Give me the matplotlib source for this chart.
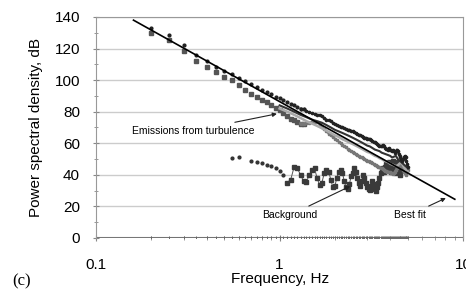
import matplotlib.pyplot as plt
import numpy as np

plt.rcParams['font.family'] = ['Liberation Sans', 'DejaVu Sans']

# frequency bins (0.05 Hz spacing)
freq = np.round(np.arange(0.2, 5.001, 0.05), 2)

# emissions from turbulence - upper dark series
turb_a = [133, 128.6, 122.2, 116, 112, 108.5, 106, 104, 101.5, 99.5,
          97.5, 95.5, 94, 92.5, 91, 89.5, 88.5, 87.5, 86, 85,
          84, 83, 82, 81.5, 80.5, 79.5, 79, 78.5, 78, 78,
          77, 76, 75, 74.5, 74, 73, 72, 71.5, 71, 70.5,
          70, 69.5, 69, 68.5, 68.5, 68, 67.5, 67, 66.5, 66,
          65.5, 65, 64.5, 64, 63.5, 63.5, 63, 63, 62.5, 62,
          61.5, 61, 60.5, 60, 59.5, 59, 58.5, 58.5, 58, 59,
          58, 57, 56.5, 56.5, 56, 57, 56, 55.5, 55, 55.5,
          55, 54, 55, 56, 55, 53, 52, 51, 50, 49,
          50, 51, 52, 51, 49, 47, 45]

# emissions from turbulence - lower grey series (dips near 1.3 Hz)
turb_b = [130, 125.4, 118.4, 112, 108.5, 105, 102, 100, 97, 94,
          91.5, 89.5, 87.5, 86, 84, 82.5, 81, 79, 77, 75.5,
          74.5, 73.5, 72.5, 72.5, 73, 73, 73.5, 73.5, 73.5, 72,
          70.5, 69, 67.5, 66, 65, 64, 63, 62, 61, 60,
          59, 58, 57.5, 56.5, 56, 55, 54.5, 54, 53, 52.5,
          52, 51.5, 51, 50.5, 50, 49.5, 49, 48.5, 48, 48,
          47.5, 47, 46.5, 46, 45.5, 45, 45, 44.5, 44, 43.5,
          43, 42.5, 42.5, 42, 42, 41.5, 41.5, 41, 41, 40.5,
          41, 42, 43, 44, 45, 46, 47, 46, 45, 44,
          43, 42, 41, 40, 41, 42, 43]

# further runs, 0.1 Hz spacing from 1 Hz
freq_c = np.round(np.arange(1.0, 5.001, 0.1), 1)
turb_c = [84, 82, 80, 78, 76.5, 75, 74, 73, 71.5, 70,
          68.5, 67.5, 66.5, 65.5, 64.5, 63.5, 62.5, 61.5, 60.5, 59.5,
          58.5, 58, 57, 56, 55.5, 55, 54, 53.5, 53, 52.5,
          52, 51, 51.5, 52, 50, 49, 48, 47, 46, 45, 44]
turb_d = [82, 80, 78, 76, 74, 72.5, 71, 69.5, 68, 66.5,
          65, 64, 62.5, 61.5, 60.5, 59.5, 58.5, 57.5, 56.5, 55.5,
          54.5, 54, 53, 52, 51.5, 50.5, 50, 49, 48.5, 48,
          47, 46.5, 46, 45.5, 46, 47, 48, 46, 44, 43, 42]

# background noise
freq_bg = np.round(np.arange(0.55, 4.601, 0.05), 2)
background = [50.5, 51, np.nan, 48.5, 48, 47.5, 46.5, 45.5, 44, 42.5,
              40, 35, 37, 45, 44, 40, 36, 35.5, 40, 43,
              44, 38, 33.5, 35, 41, 43, 42, 37, 32, 33,
              38, 42, 43, 41, 36, 32, 31, 34, 39, 41,
              44, 42, 38, 35, 33, 36, 40, 38, 35, 32,
              31, 30.5, 33, 36, 34, 31, 30, 32, 35, 38,
              41, 43, 44, 42, 45, 47, 44, 46, 48, 45,
              42, 46, 49, 47, 44, 41, 45, 48, 44, 40,
              43, 46]

# silent channel
silence = np.zeros(len(freq))

# best fit line end points
fit_freq = [0.16, 9.0]
fit_db = [138.0, 24.5]

fig = plt.figure(figsize=(4.66, 2.93), dpi=100)
ax = fig.add_axes([0.206, 0.188, 0.788, 0.754])

ta = np.array(turb_a)
tb = np.array(turb_b)
dots = freq < 1.4
lines = freq >= 1.3

ax.plot(freq, silence, color='#666666', lw=1.0, marker='|', ms=3, mew=0.7, zorder=3)
ax.plot(freq_bg[:12], background[:12], ls='none', marker='o', ms=2.0,
        color='#333333', zorder=3)
ax.plot(freq_bg[11:], background[11:], color='#555555', lw=0.7, marker='s', ms=3.2,
        mfc='#3a3a3a', mec='#3a3a3a', zorder=3)
ax.plot(freq[dots], tb[dots], ls='none', marker='s', ms=2.4,
        color='#555555', zorder=4)
ax.plot(freq[lines], tb[lines], color='#8a8a8a', lw=1.6, marker='s', ms=1.8,
        mfc='#777777', mec='#777777', zorder=4)
ax.plot(freq_c, turb_d, color='#aaaaaa', lw=1.8, zorder=4)
ax.plot(freq_c, turb_c, color='#333333', lw=1.5, zorder=5)
ax.plot(freq[dots], ta[dots], ls='none', marker='o', ms=2.0, color='#222222', zorder=5)
ax.plot(freq[lines], ta[lines], color='#222222', lw=1.4, marker='o', ms=1.6, zorder=5)
ax.plot(fit_freq, fit_db, color='black', lw=1.2, zorder=6)

ax.set_xscale('log')
ax.set_xlim(0.1, 10)
ax.set_ylim(0, 140)
ax.set_xticks([0.1, 1, 10])
ax.set_xticklabels(['0.1', '1', '10'])
ax.set_yticks(np.arange(0, 141, 20))
ax.set_yticks(np.arange(0, 141, 10), minor=True)
ax.grid(axis='y', which='major', color='#cccccc', lw=1.0)
ax.set_axisbelow(True)
for s in ax.spines.values():
    s.set_color('#999999')
ax.spines['bottom'].set_visible(False)
ax.axhline(0, color='#777777', lw=1.5, zorder=2)
ax.tick_params(axis='y', which='both', direction='inout', length=5, color='#888888',
               labelsize=11, pad=9)
ax.tick_params(axis='y', which='minor', length=3)
ax.tick_params(axis='x', which='both', direction='inout', length=5, color='#888888',
               labelsize=11, pad=12)
ax.tick_params(axis='x', which='minor', length=3)

ax.set_ylabel('Power spectral density, dB', fontsize=11, labelpad=8)
ax.set_xlabel('Frequency, Hz', fontsize=11, labelpad=0)
fig.text(0.026, 0.025, '(c)', fontsize=12, family='Liberation Serif')

arrow = dict(arrowstyle='-|>', color='#222222', lw=0.8, mutation_scale=6)
ax.annotate('Emissions from turbulence', xy=(1.0, 79), xytext=(0.34, 68),
            fontsize=7.5, ha='center', va='center', arrowprops=arrow)
ax.annotate('Background', xy=(2.5, 33.5), xytext=(1.14, 14.5),
            fontsize=7.5, ha='center', va='center', arrowprops=arrow)
ax.annotate('Best fit', xy=(8.3, 26), xytext=(5.1, 14.5),
            fontsize=7.5, ha='center', va='center', arrowprops=arrow)

fig.savefig('out.png', dpi=100)
